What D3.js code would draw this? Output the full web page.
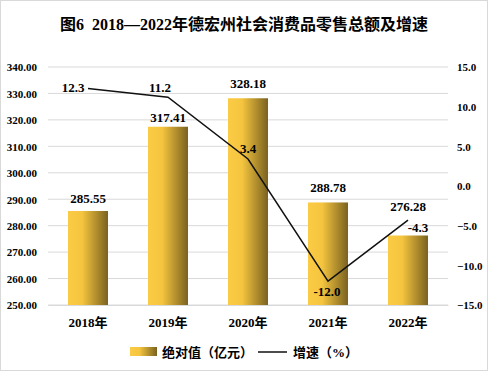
<!DOCTYPE html>
<html>
<head>
<meta charset="utf-8">
<script src="https://cdn.jsdelivr.net/npm/d3@7"></script>
<style>
  body { margin: 0; background: #fff; }
  svg text { font-family: "Liberation Serif", "Noto Sans CJK SC", serif; font-weight: bold; fill: #000; }
</style>
</head>
<body>
<div id="chart"></div>
<script>
// data
var years = ["2018年", "2019年", "2020年", "2021年", "2022年"];
var amount = [285.55, 317.41, 328.18, 288.78, 276.28];
var growth = [12.3, 11.2, 3.4, -12.0, -4.3];
var leftTicks = [250, 260, 270, 280, 290, 300, 310, 320, 330, 340];
var rightTicks = [-15, -10, -5, 0, 5, 10, 15];

var width = 488, height = 373;
var margin = {top: 67, right: 40, bottom: 68, left: 48};

var svg = d3.select("#chart").append("svg")
  .attr("width", width)
  .attr("height", height);

svg.append("rect")
  .attr("x", 0.5).attr("y", 0.5)
  .attr("width", width - 1).attr("height", height - 3)
  .attr("fill", "#fff")
  .attr("stroke", "#d9d9d9");

var grad = svg.append("defs").append("linearGradient")
  .attr("id", "barGrad")
  .attr("x1", "0%").attr("x2", "100%").attr("y1", "0%").attr("y2", "0%");
grad.append("stop").attr("offset", "0%").attr("stop-color", "#fbcb45");
grad.append("stop").attr("offset", "35%").attr("stop-color", "#f5c53f");
grad.append("stop").attr("offset", "100%").attr("stop-color", "#7a6220");

svg.append("text")
  .attr("x", width / 2)
  .attr("y", 30)
  .attr("text-anchor", "middle")
  .style("font-size", "16px")
  .style("white-space", "pre")
  .text("图6  2018—2022年德宏州社会消费品零售总额及增速");

var x = d3.scaleBand()
  .domain(years)
  .range([margin.left, width - margin.right])
  .paddingInner(0.5)
  .paddingOuter(0.25);

var y = d3.scaleLinear()
  .domain([250, 340])
  .range([height - margin.bottom, margin.top]);

var y2 = d3.scaleLinear()
  .domain([-15, 15])
  .range([height - margin.bottom, margin.top]);

// gridlines
svg.append("g")
  .selectAll("line")
  .data(leftTicks)
  .enter().append("line")
  .attr("x1", margin.left)
  .attr("x2", width - margin.right)
  .attr("y1", d => y(d))
  .attr("y2", d => y(d))
  .attr("stroke", "#d9d9d9")
  .attr("stroke-width", 1);

// left axis
var leftAxis = svg.append("g")
  .attr("transform", "translate(" + (margin.left - 8) + ",0)")
  .call(d3.axisLeft(y).tickValues(leftTicks).tickFormat(d3.format(".2f")).tickSize(0));
leftAxis.select(".domain").remove();
leftAxis.selectAll("text").style("font-size", "11px").attr("dy", "0.35em");

// right axis
var rightAxis = svg.append("g")
  .attr("transform", "translate(" + (width - margin.right + 6) + ",0)")
  .call(d3.axisRight(y2).tickValues(rightTicks).tickFormat(d3.format(".1f")).tickSize(0));
rightAxis.select(".domain").remove();
rightAxis.selectAll("text").style("font-size", "11px").attr("dy", "0.35em");

// x axis
var xAxis = svg.append("g")
  .attr("transform", "translate(0," + (height - margin.bottom) + ")")
  .call(d3.axisBottom(x).tickSize(0).tickPadding(10));
xAxis.select(".domain").attr("stroke", "#d9d9d9");
xAxis.selectAll("text").style("font-size", "13px").attr("dy", "0.9em");

// bars
svg.append("g")
  .selectAll("rect")
  .data(amount)
  .enter().append("rect")
  .attr("x", (d, i) => x(years[i]))
  .attr("y", d => y(d))
  .attr("width", x.bandwidth())
  .attr("height", d => y(250) - y(d))
  .attr("fill", "url(#barGrad)");

var barLabelLift = [8, 5, 10, 10, 25];
svg.append("g")
  .selectAll("text")
  .data(amount)
  .enter().append("text")
  .attr("x", (d, i) => x(years[i]) + x.bandwidth() / 2)
  .attr("y", (d, i) => y(d) - barLabelLift[i])
  .attr("text-anchor", "middle")
  .style("font-size", "13px")
  .text(d => d.toFixed(2));

// growth line
var cx = (d, i) => x(years[i]) + x.bandwidth() / 2;
var line = d3.line()
  .x(cx)
  .y(d => y2(d));

svg.append("path")
  .datum(growth)
  .attr("d", line)
  .attr("fill", "none")
  .attr("stroke", "#111")
  .attr("stroke-width", 1.5);

var lineLabelOffset = [[-15, 4], [-8, -5], [0, -6], [-1, 15], [10, 12]];
svg.append("g")
  .selectAll("text")
  .data(growth)
  .enter().append("text")
  .attr("x", (d, i) => cx(d, i) + lineLabelOffset[i][0])
  .attr("y", (d, i) => y2(d) + lineLabelOffset[i][1])
  .attr("text-anchor", "middle")
  .style("font-size", "13px")
  .text(d => d.toFixed(1));

// legend
var legend = svg.append("g").attr("transform", "translate(130,352)");
legend.append("rect")
  .attr("x", 0).attr("y", -5)
  .attr("width", 27).attr("height", 9)
  .attr("fill", "url(#barGrad)");
legend.append("text")
  .attr("x", 32).attr("y", 5)
  .style("font-size", "13px")
  .text("绝对值（亿元）");
legend.append("line")
  .attr("x1", 128).attr("x2", 157)
  .attr("y1", 0).attr("y2", 0)
  .attr("stroke", "#111")
  .attr("stroke-width", 1.5);
legend.append("text")
  .attr("x", 163).attr("y", 5)
  .style("font-size", "13px")
  .text("增速（%）");
</script>
</body>
</html>
